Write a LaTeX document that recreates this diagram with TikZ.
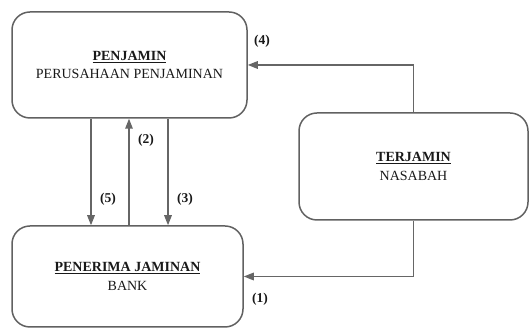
\documentclass[tikz,border=0pt]{standalone}
\usepackage{fontspec}
\setmainfont{Liberation Serif}
\usetikzlibrary{arrows.meta,positioning}

\tikzset{
	kotak/.style={draw=black!62, line width=1.5pt, rounded corners=18pt, align=center,
		font=\fontsize{14}{18.5}\selectfont, text=black!90},
	panah/.style={draw=black!60, line width=1.5pt, -{Triangle[length=10pt,width=7.5pt]}},
	nomor/.style={font=\fontsize{13.5}{15}\selectfont\bfseries, text=black!90}
}

\begin{document}
		\begin{tikzpicture}[x=1pt,y=1pt]
				\useasboundingbox (0,0) rectangle (530,328);
				\node[kotak, minimum width=235pt, minimum height=106pt] (penjamin) at (129.5,263)
				{\underline{\textbf{PENJAMIN}}\\PERUSAHAAN PENJAMINAN};
				\node[kotak, minimum width=231pt, minimum height=101pt] (penerima) at (127.5,51.5)
				{\underline{\textbf{PENERIMA JAMINAN}}\\BANK};
				\node[kotak, minimum width=229pt, minimum height=107pt] (terjamin) at (413.5,161.5)
				{\underline{\textbf{TERJAMIN}}\\NASABAH};

				% alur penjaminan
				\draw[panah] (terjamin.south) |- (penerima.east);
				\draw[panah] ([xshift=-0.5pt]penerima.north -| penjamin.south) -- ([xshift=-0.5pt]penjamin.south);
				\draw[panah] ([xshift=38.5pt]penjamin.south) -- ([xshift=38.5pt]penjamin.south |- penerima.north);
				\draw[panah] (terjamin.north) |- (penjamin.east);
				\draw[panah] ([xshift=-38.5pt]penjamin.south) -- ([xshift=-38.5pt]penjamin.south |- penerima.north);

				\node[nomor] (n1) at (260,29) {(1)};
				\node[nomor] (n2) at (146,188) {(2)};
				\node[nomor] (n3) at (185,129) {(3)};
				\node[nomor] (n4) at (262,287) {(4)};
				\node[nomor] (n5) at (108,129) {(5)};
		\end{tikzpicture}
\end{document}
